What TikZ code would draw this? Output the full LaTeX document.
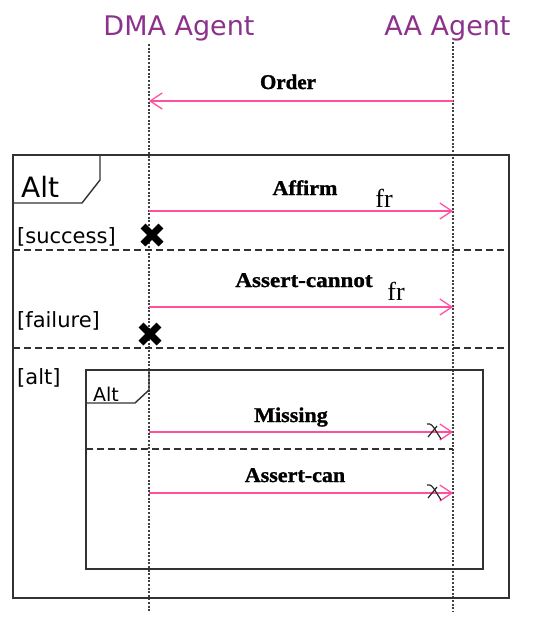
\documentclass[tikz,border=0pt]{standalone}
\usepackage{fontspec}
\setmainfont{Liberation Serif}
\newfontfamily\agentfont{DejaVu Sans}
\newfontfamily\heavyserif{Liberation Serif}[BoldFeatures={FakeBold=1.2}]
\usetikzlibrary{arrows.meta}
\definecolor{agentpurple}{RGB}{140,50,140}
\definecolor{msgpink}{RGB}{255,80,160}
\definecolor{frameline}{RGB}{50,50,50}
\begin{document}
\begin{tikzpicture}[x=1pt,y=-1pt,
  lifeline/.style={line width=1.4pt, dash pattern=on 2pt off 1.6pt, draw=black!75},
  frame/.style={line width=1.4pt, draw=frameline},
  guard/.style={line width=1.4pt, draw=frameline, dash pattern=on 7pt off 4pt},
  msg/.style={draw=msgpink, line width=1.3pt,
    -{Straight Barb[length=12pt,width=16pt,line width=1.3pt]}},
  agent/.style={font=\agentfont\fontsize{27}{30}\selectfont, text=agentpurple,
    inner sep=0pt, anchor=base},
  msglabel/.style={font=\heavyserif\bfseries\fontsize{21}{24}\selectfont, inner sep=0pt, anchor=base},
  frlabel/.style={font=\fontsize{26}{28}\selectfont, inner sep=0pt, anchor=base},
  guardlabel/.style={font=\agentfont\fontsize{21}{24}\selectfont, inner sep=0pt, anchor=base west},
  altlabel/.style={font=\agentfont\fontsize{28}{30}\selectfont, inner sep=0pt, anchor=base west},
  stopmark/.style={line width=7pt, draw=black},
  lostmark/.style={line width=1.2pt, draw=black!85}
]
\useasboundingbox (0,0) rectangle (556,619);

% agents and their lifelines
\node[agent] (dma) at (179,35) {DMA Agent};
\node[agent] (aa) at (447.5,35) {AA Agent};
\coordinate (dmaTop) at (149,44);
\coordinate (dmaBot) at (149,612);
\coordinate (aaTop) at (453,42);
\coordinate (aaBot) at (453,611);
\draw[lifeline] (dmaTop) -- (dmaBot);
\draw[lifeline] (aaTop) -- (aaBot);

% outer alternative fragment
\draw[frame] (13,155) rectangle (509,598);
\draw[frame] (13,203) -- (82,203) -- (100,180) -- (100,155);
\node[altlabel] (alt1) at (21,197) {Alt};
\draw[guard] (13,250) -- (509,250);
\draw[guard] (13,348) -- (509,348);
\node[guardlabel] (g1) at (17,243) {[success]};
\node[guardlabel] (g2) at (17,327) {[failure]};
\node[guardlabel] (g3) at (17,384) {[alt]};

% inner alternative fragment
\draw[frame] (86,370) rectangle (483,569);
\draw[frame] (86,403) -- (135,403) -- (149,390) -- (149,370);
\node[font=\agentfont\fontsize{19}{20}\selectfont, inner sep=0pt, anchor=base west]
  (alt2) at (93,401) {Alt};
\draw[guard] (86,449) -- (453,449);

% messages
\coordinate (aaOrder) at (453,101);
\coordinate (dmaOrder) at (149,101);
\draw[msg] (aaOrder) -- (dmaOrder);
\node[msglabel, xscale=1.0] (order) at (288,89) {Order};

\coordinate (dmaAffirm) at (149,211);
\coordinate (aaAffirm) at (453,211);
\draw[msg] (dmaAffirm) -- (aaAffirm);
\node[msglabel, xscale=1.05] (affirm) at (305,195) {Affirm};
\node[frlabel] (fr1) at (384,207) {fr};

\coordinate (dmaCannot) at (149,307);
\coordinate (aaCannot) at (453,307);
\draw[msg] (dmaCannot) -- (aaCannot);
\node[msglabel, xscale=1.1] (cannot) at (304,287) {Assert-cannot};
\node[frlabel] (fr2) at (396,300) {fr};

\coordinate (dmaMissing) at (149,432);
\coordinate (aaMissing) at (453,432);
\draw[msg] (dmaMissing) -- (aaMissing);
\node[msglabel, xscale=1.05] (missing) at (291,422) {Missing};

\coordinate (dmaCan) at (149,493);
\coordinate (aaCan) at (453,493);
\draw[msg] (dmaCan) -- (aaCan);
\node[msglabel, xscale=1.05] (can) at (295,482) {Assert-can};

% lost-message marks near the arrow heads
\foreach \y in {432,493} {
  \draw[lostmark] (427,\y-8) .. controls (431,\y-9) and (433,\y-6) .. (436,\y-1)
    -- (441,\y+7);
  \draw[lostmark] (428,\y+5) -- (437,\y-6);
}

% destruction marks
\draw[stopmark] (143,226) -- (161,244);
\draw[stopmark] (161,226) -- (143,244);
\draw[stopmark] (141,325) -- (159,343);
\draw[stopmark] (159,325) -- (141,343);
\end{tikzpicture}
\end{document}
